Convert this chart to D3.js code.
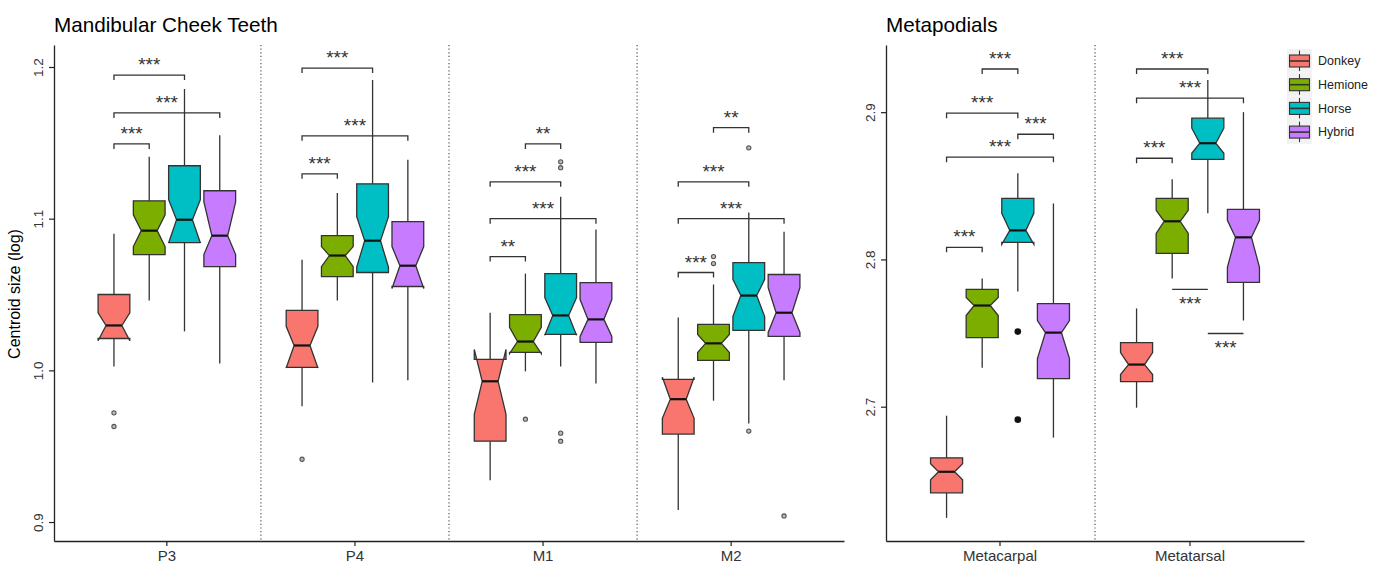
<!DOCTYPE html>
<html>
<head>
<meta charset="utf-8">
<script src="https://cdn.jsdelivr.net/npm/d3@7/dist/d3.min.js"></script>
<style>
  body { margin: 0; background: #fff; }
  svg text { font-family: "Liberation Sans", Arial, sans-serif; }
</style>
</head>
<body>
<div id="chart"></div>
<script>

// groups and colours (ggplot default hues)
var groups = ["Donkey", "Hemione", "Horse", "Hybrid"];
var colors = ["#F8766D", "#7CAE00", "#00BFC4", "#C77CFF"];

var teeth = ["P3", "P4", "M1", "M2"];
var bones = ["Metacarpal", "Metatarsal"];

var teethTicks = [0.9, 1.0, 1.1, 1.2];
var boneTicks = [2.7, 2.8, 2.9];

// one row per group: [lower whisker, q1, median, q3, upper whisker, notch low, notch high]
var statsP3 = [
    [1.0026, 1.0210, 1.0296, 1.0500, 1.0900, 1.0195, 1.0380],
    [1.0460, 1.0763, 1.0921, 1.1118, 1.1408, 1.0816, 1.1026],
    [1.0257, 1.0842, 1.0993, 1.1349, 1.1855, 1.0840, 1.1125],
    [1.0046, 1.0684, 1.0888, 1.1184, 1.1550, 1.0763, 1.1110]
];
var statsP4 = [
    [0.9763, 1.0020, 1.0164, 1.0395, 1.0730, 1.0015, 1.0290],
    [1.0460, 1.0618, 1.0757, 1.0888, 1.1170, 1.0684, 1.0816],
    [0.9920, 1.0645, 1.0855, 1.1230, 1.1914, 1.0680, 1.1013],
    [0.9934, 1.0553, 1.0690, 1.0980, 1.1388, 1.0540, 1.0816]
];
var statsM1 = [
    [0.9276, 0.9533, 0.9928, 1.0072, 1.0380, 0.9710, 1.0138],
    [0.9993, 1.0118, 1.0190, 1.0368, 1.0638, 1.0110, 1.0283],
    [1.0026, 1.0237, 1.0362, 1.0638, 1.1145, 1.0232, 1.0480],
    [0.9914, 1.0184, 1.0336, 1.0579, 1.0928, 1.0224, 1.0467]
];
var statsM2 = [
    [0.9080, 0.9580, 0.9810, 0.9940, 1.0349, 0.9684, 0.9955],
    [0.9800, 1.0066, 1.0178, 1.0303, 1.0566, 1.0118, 1.0237],
    [0.9650, 1.0263, 1.0493, 1.0710, 1.1040, 1.0355, 1.0600],
    [0.9934, 1.0224, 1.0380, 1.0632, 1.0914, 1.0250, 1.0546]
];
var statsMetacarpal = [
    [2.6245, 2.6415, 2.6558, 2.6653, 2.6939, 2.6503, 2.6612],
    [2.7265, 2.7469, 2.7687, 2.7796, 2.7870, 2.7619, 2.7741],
    [2.7782, 2.8116, 2.8197, 2.8415, 2.8585, 2.8102, 2.8313],
    [2.6790, 2.7190, 2.7503, 2.7700, 2.8380, 2.7327, 2.7585]
];
var statsMetatarsal = [
    [2.6993, 2.7170, 2.7286, 2.7435, 2.7667, 2.7218, 2.7367],
    [2.7870, 2.8041, 2.8259, 2.8415, 2.8544, 2.8177, 2.8333],
    [2.8313, 2.8680, 2.8789, 2.8959, 2.9218, 2.8721, 2.8891],
    [2.7585, 2.7844, 2.8150, 2.8340, 2.9000, 2.7946, 2.8265]
];

// outliers per group
var outP3 = [[0.972, 0.963], [], [], []];
var outP4 = [[0.9414], [], [], []];
var outM1 = [[], [0.9678], [1.1375, 1.1336, 0.9586, 0.9533], []];
var outM2 = [[], [1.075, 1.0704], [1.1467, 0.960], [0.904]];
var outMetacarpal = [[], [], [2.751, 2.6912], []];
var outMetatarsal = [[], [], [], []];

// significance brackets: [category, from group, to group, y, label, below?]
var sigTeeth = [
    ["P3", 0, 1, 1.1493, "***"], ["P3", 0, 3, 1.1697, "***"], ["P3", 0, 2, 1.1947, "***"],
    ["P4", 0, 1, 1.1296, "***"], ["P4", 0, 3, 1.1546, "***"], ["P4", 0, 2, 1.1993, "***"],
    ["M1", 0, 1, 1.0750, "**"], ["M1", 0, 3, 1.1000, "***"], ["M1", 0, 2, 1.1243, "***"], ["M1", 1, 2, 1.1493, "**"],
    ["M2", 0, 1, 1.0645, "***"], ["M2", 0, 3, 1.1000, "***"], ["M2", 0, 2, 1.1243, "***"], ["M2", 1, 2, 1.1600, "**"]
];
var sigBones = [
    ["Metacarpal", 0, 1, 2.8082, "***"], ["Metacarpal", 0, 3, 2.8694, "***"], ["Metacarpal", 2, 3, 2.8850, "***"],
    ["Metacarpal", 0, 2, 2.8993, "***"], ["Metacarpal", 1, 2, 2.9293, "***"],
    ["Metatarsal", 0, 1, 2.8687, "***"], ["Metatarsal", 0, 3, 2.9095, "***"], ["Metatarsal", 0, 2, 2.9293, "***"],
    ["Metatarsal", 1, 2, 2.7796, "***", true], ["Metatarsal", 2, 3, 2.7497, "***", true]
];

var W = 1383, H = 568;
var svg = d3.select("#chart").append("svg")
    .attr("width", W)
    .attr("height", H);

/*
 * draws one facet: axes, dividers, boxes, outliers and brackets
 */
function drawPanel(opt) {
    var g = svg.append("g");

    var x = d3.scaleBand()
        .domain(opt.cats)
        .range([opt.left, opt.right])
        .paddingInner(0)
        .paddingOuter(0.1);
    var step = x.step();

    var dodge = d3.scaleBand()
        .domain(d3.range(groups.length))
        .range([-0.375 * step, 0.375 * step])
        .paddingInner(0.1)
        .paddingOuter(0.05);

    var y = d3.scaleLinear()
        .domain(opt.yDomain)
        .range([opt.bottom, opt.top]);

    function cx(cat, gi) {
        return x(cat) + step / 2 + dodge(gi) + dodge.bandwidth() / 2;
    }

    // title
    g.append("text")
        .attr("x", opt.left)
        .attr("y", 32)
        .text(opt.title)
        .attr("font-size", "20.7px")
        .attr("fill", "black");

    // dotted dividers between categories
    opt.cats.slice(1).forEach(function(c) {
        g.append("line")
            .attr("x1", x(c)).attr("x2", x(c))
            .attr("y1", opt.top).attr("y2", opt.bottom)
            .attr("stroke", "#555")
            .attr("stroke-width", 1.2)
            .attr("stroke-dasharray", "1.2,2.4");
    });

    // axes
    var yAxis = g.append("g")
        .attr("transform", "translate(" + opt.left + ",0)")
        .call(d3.axisLeft(y).tickValues(opt.ticks).tickFormat(d3.format(".1f")).tickSize(5).tickSizeOuter(0));
    yAxis.selectAll("text")
        .attr("transform", "rotate(-90)")
        .attr("x", 0)
        .attr("y", -11)
        .attr("dy", 0)
        .attr("text-anchor", "middle")
        .attr("font-size", "13.5px")
        .attr("fill", "#333");

    var xAxis = g.append("g")
        .attr("transform", "translate(0," + opt.bottom + ")")
        .call(d3.axisBottom(x).tickSize(5).tickSizeOuter(0));
    xAxis.selectAll("text")
        .attr("font-size", "15px")
        .attr("y", 9)
        .attr("dy", "0.71em")
        .attr("fill", "#333");

    [yAxis, xAxis].forEach(function(a) {
        a.select(".domain").attr("stroke", "#222").attr("stroke-width", 1.3);
        a.selectAll(".tick line").attr("stroke", "#222").attr("stroke-width", 1.2);
    });

    var bw = dodge.bandwidth();

    // boxes
    opt.cats.forEach(function(cat, ci) {
        var stats = opt.stats[ci];
        stats.forEach(function(s, gi) {
            var c = cx(cat, gi);
            var l = c - bw / 2, r = c + bw / 2, ind = bw / 4;

            // whiskers
            g.append("line")
                .attr("x1", c).attr("x2", c)
                .attr("y1", y(s[3])).attr("y2", y(s[4]))
                .attr("stroke", "#333").attr("stroke-width", 1.3);
            g.append("line")
                .attr("x1", c).attr("x2", c)
                .attr("y1", y(s[1])).attr("y2", y(s[0]))
                .attr("stroke", "#333").attr("stroke-width", 1.3);

            var pts = [
                [l, y(s[3])], [l, y(s[6])], [l + ind, y(s[2])], [l, y(s[5])], [l, y(s[1])],
                [r, y(s[1])], [r, y(s[5])], [r - ind, y(s[2])], [r, y(s[6])], [r, y(s[3])]
            ];
            g.append("path")
                .attr("d", d3.line()(pts) + "Z")
                .attr("fill", colors[gi])
                .attr("stroke", "#333")
                .attr("stroke-width", 1.3)
                .attr("stroke-linejoin", "miter");

            g.append("line")
                .attr("x1", l + ind).attr("x2", r - ind)
                .attr("y1", y(s[2])).attr("y2", y(s[2]))
                .attr("stroke", "#111").attr("stroke-width", 2.2);

            // outliers
            opt.outliers[ci][gi].forEach(function(v) {
                if (opt.solidOutliers) {
                    g.append("circle")
                        .attr("cx", c).attr("cy", y(v)).attr("r", 3.3)
                        .attr("fill", "#111");
                } else {
                    g.append("circle")
                        .attr("cx", c).attr("cy", y(v)).attr("r", 2.1)
                        .attr("fill", "#bbb")
                        .attr("stroke", "#555")
                        .attr("stroke-width", 1.1);
                }
            });
        });
    });

    // significance brackets
    opt.sig.forEach(function(d) {
        var x1 = cx(d[0], d[1]), x2 = cx(d[0], d[2]), yy = y(d[3]);
        var below = d[5] === true;
        var path = below
            ? d3.line()([[x1, yy], [x2, yy]])
            : d3.line()([[x1, yy + 5], [x1, yy], [x2, yy], [x2, yy + 5]]);
        g.append("path")
            .attr("d", path)
            .attr("fill", "none")
            .attr("stroke", "#333")
            .attr("stroke-width", 1.3);
        g.append("text")
            .attr("x", (x1 + x2) / 2)
            .attr("y", below ? yy + 21 : yy - 4)
            .attr("text-anchor", "middle")
            .attr("font-size", "19px")
            .attr("fill", "#333")
            .text(d[4]);
    });
}

drawPanel({
    title: "Mandibular Cheek Teeth",
    cats: teeth,
    left: 54, right: 844, top: 45, bottom: 541,
    yDomain: [0.8875, 1.2145],
    ticks: teethTicks,
    stats: [statsP3, statsP4, statsM1, statsM2],
    outliers: [outP3, outP4, outM1, outM2],
    sig: sigTeeth,
    solidOutliers: false
});

drawPanel({
    title: "Metapodials",
    cats: bones,
    left: 886, right: 1304, top: 45, bottom: 541,
    yDomain: [2.6088, 2.9456],
    ticks: boneTicks,
    stats: [statsMetacarpal, statsMetatarsal],
    outliers: [outMetacarpal, outMetatarsal],
    sig: sigBones,
    solidOutliers: true
});

// y axis title
svg.append("text")
    .attr("transform", "translate(20,294) rotate(-90)")
    .attr("text-anchor", "middle")
    .attr("font-size", "16px")
    .attr("fill", "black")
    .text("Centroid size (log)");

// legend
var legend = svg.append("g").attr("transform", "translate(1287,49)");
groups.forEach(function(name, i) {
    var k = legend.append("g").attr("transform", "translate(0," + (i * 23.7) + ")");
    k.append("rect").attr("width", 25).attr("height", 23.7).attr("fill", "#f2f2f2");
    k.append("line").attr("x1", 12.5).attr("x2", 12.5).attr("y1", 1.5).attr("y2", 22)
        .attr("stroke", "#333").attr("stroke-width", 1.1);
    k.append("rect").attr("x", 2.5).attr("y", 6).attr("width", 20).attr("height", 12)
        .attr("fill", colors[i]).attr("stroke", "#333").attr("stroke-width", 1.1);
    k.append("line").attr("x1", 2.5).attr("x2", 22.5).attr("y1", 12).attr("y2", 12)
        .attr("stroke", "#333").attr("stroke-width", 1.6);
    k.append("text").attr("x", 31).attr("y", 12).attr("dy", "0.35em")
        .attr("font-size", "12.5px").attr("fill", "#222").text(name);
});

</script>
</body>
</html>
